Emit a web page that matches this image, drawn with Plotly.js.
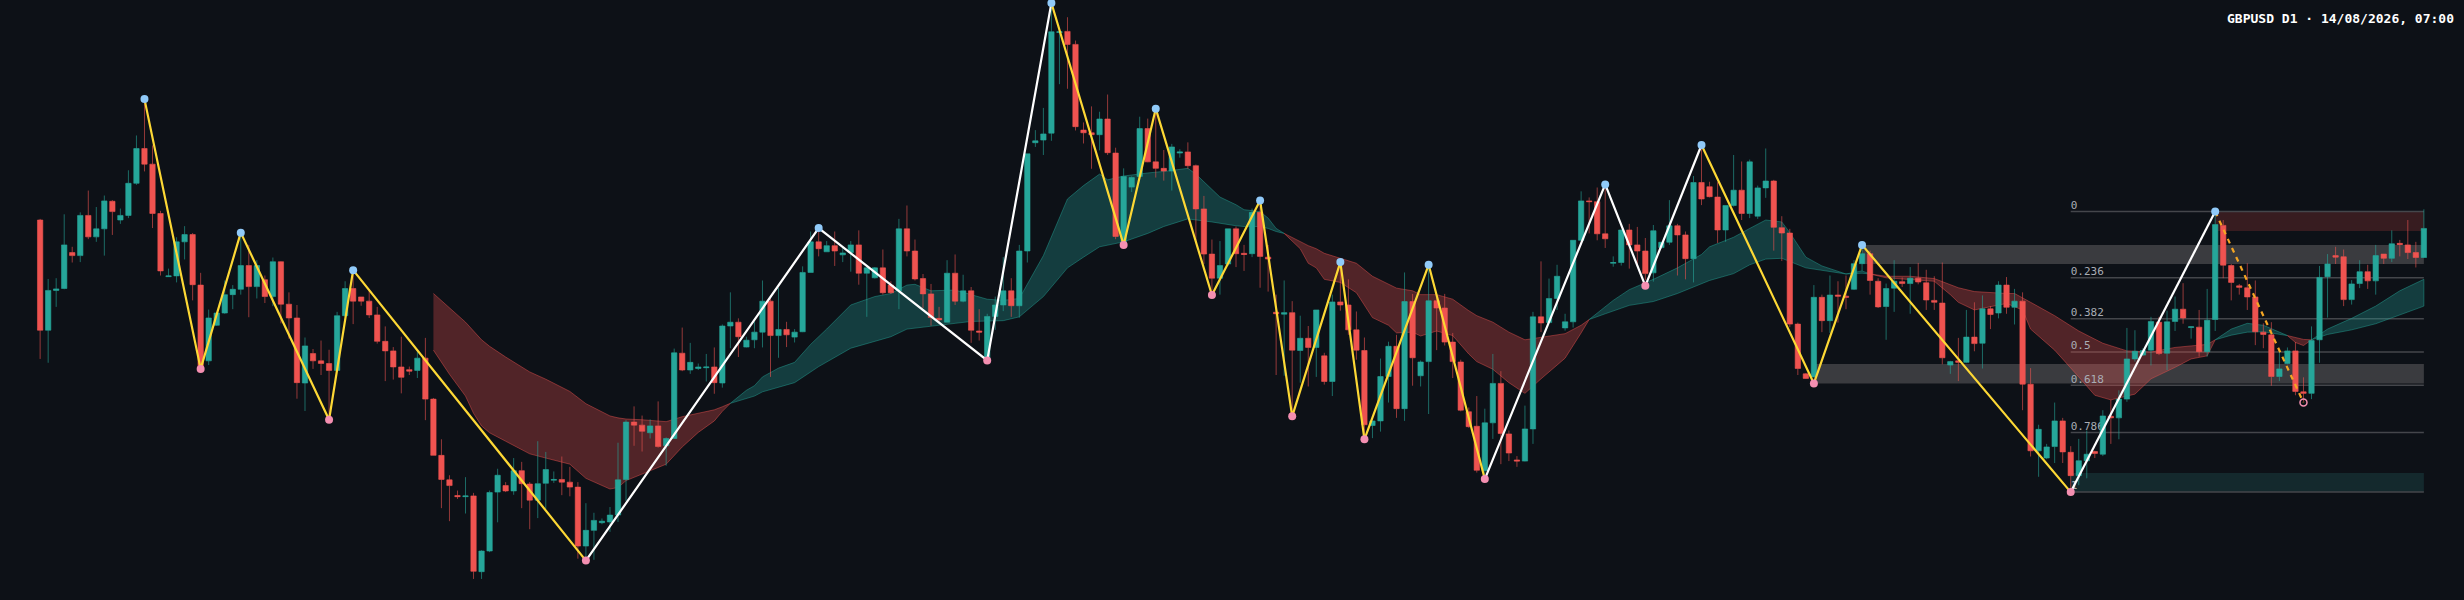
<!DOCTYPE html>
<html>
<head>
<meta charset="utf-8">
<script src="https://cdn.plot.ly/plotly-3.0.1.min.js"></script>
<style>
  html, body { margin: 0; padding: 0; background: #0d1117; }
  #chart { width: 2464px; height: 600px; }
</style>
</head>
<body>
<div id="chart"></div>
<script>
// all prices are pips above an arbitrary floor
const opens = [993,705,809,814,908,900,1005,949,970,1042,993,1005,1089,1180,1139,1010,845,847,936,955,823,625,718,750,798,812,874,819,837,793,884,773,737,567,644,625,618,600,743,814,792,781,745,676,651,609,602,600,632,525,378,314,273,270,272,74,128,282,299,285,338,303,261,305,313,315,308,295,141,182,202,204,222,315,465,457,437,455,403,422,645,601,605,607,609,567,716,726,661,680,700,781,691,707,687,701,856,936,910,926,902,908,928,854,842,868,823,808,970,912,840,800,736,726,854,781,808,703,628,741,771,808,769,912,1195,1202,1220,1483,1486,1452,1228,1221,1216,1257,1168,928,1079,1107,1232,1145,1128,1121,1168,1171,1135,1022,904,841,878,970,906,905,1013,896,752,747,751,652,684,660,638,571,779,771,706,652,456,468,584,663,500,780,586,623,782,763,674,622,492,454,338,463,566,434,366,363,447,740,725,788,711,727,940,1043,1041,957,880,882,967,928,912,855,921,935,978,954,892,1091,1080,1053,967,1031,1071,1010,1003,1077,1095,973,959,721,591,583,791,730,797,794,812,879,905,833,767,815,832,827,841,829,783,776,614,625,621,687,671,761,750,823,765,781,564,390,371,401,468,386,325,364,388,381,480,476,525,630,640,653,726,645,728,760,712,713,649,733,979,874,821,816,792,700,693,584,618,651,544,540,680,845,900,897,785,827,858,834,904,893,932,928,908,895];
const highs = [996,839,841,1008,923,1013,1070,1027,1057,1045,1023,1123,1214,1309,1188,1017,866,948,977,959,855,759,750,835,823,958,928,888,848,895,885,804,771,686,656,678,654,753,833,858,792,808,766,715,661,688,610,650,685,528,420,326,286,321,280,130,286,343,308,371,361,308,415,387,336,375,348,308,253,228,213,243,411,470,506,482,472,519,425,657,712,672,618,643,660,720,804,736,688,728,835,788,816,727,708,872,963,973,938,963,923,938,966,870,870,916,833,996,1031,942,852,826,766,888,903,850,818,760,748,793,896,841,928,1166,1228,1286,1560,1485,1523,1462,1248,1290,1276,1321,1182,1128,1107,1263,1258,1278,1176,1192,1178,1196,1138,1056,942,938,970,976,928,1023,1038,928,798,835,781,743,716,758,646,798,883,838,754,686,468,631,675,693,856,800,626,878,790,800,698,628,503,533,500,643,598,443,376,508,753,885,840,876,748,940,1068,1052,1078,1086,898,968,983,975,946,980,935,1045,983,963,1108,1188,1093,1092,1031,1163,1146,1151,1083,1180,1098,1003,970,725,593,823,798,848,833,848,888,928,913,841,827,888,843,870,881,863,846,882,625,685,758,778,796,768,833,844,813,804,606,458,408,516,476,402,421,443,390,496,523,548,711,705,658,740,740,756,793,828,715,758,813,1015,993,878,826,880,835,723,726,651,660,674,582,715,873,904,923,916,836,888,876,928,904,966,941,993,936,1021];
const lows = [630,620,766,812,882,883,943,936,900,954,983,998,1085,1120,972,848,845,830,890,783,604,614,716,748,760,798,739,788,776,768,723,683,526,494,604,588,478,598,740,721,769,737,670,572,576,540,588,580,470,378,240,206,264,226,55,55,125,203,282,275,240,185,214,238,306,274,271,108,103,105,198,178,204,258,403,388,422,398,351,421,598,591,601,571,539,555,658,635,660,658,660,583,633,661,673,700,856,898,910,873,883,858,824,740,840,798,800,760,898,835,763,717,723,726,771,778,672,678,628,706,755,740,738,882,1184,1163,1200,1348,1336,1227,1193,1127,1175,1163,943,928,1066,1106,1144,1104,1096,1070,1156,1127,933,878,798,798,873,870,860,896,816,806,588,586,483,568,558,583,563,533,756,693,628,420,423,440,516,476,468,560,558,486,653,665,580,493,450,333,318,421,355,363,348,362,408,700,723,758,704,712,938,958,940,920,871,874,866,878,836,832,918,928,848,838,830,1032,1052,933,936,1028,993,998,996,1051,913,886,713,588,578,583,700,698,725,760,810,860,798,763,680,753,818,748,825,758,758,616,591,572,619,650,605,708,736,748,720,496,375,322,368,358,358,283,300,318,371,376,408,420,518,623,638,613,640,601,703,722,683,636,636,703,841,783,798,758,666,658,560,572,616,535,518,525,620,738,878,768,772,815,813,798,878,883,898,891,869,894];
const closes = [705,809,813,928,900,1005,949,970,1043,1015,1005,1089,1180,1139,1010,860,847,936,955,824,608,737,750,798,812,874,819,874,793,884,773,737,568,664,625,618,600,743,814,781,781,745,676,651,609,582,598,632,525,378,315,299,270,272,75,128,281,326,285,338,304,261,304,341,315,308,295,141,182,208,206,222,314,465,457,441,455,401,422,646,601,621,609,609,568,716,726,688,679,700,781,691,707,693,700,856,936,918,926,912,907,928,854,868,868,803,803,970,912,839,800,738,732,854,781,808,705,700,741,771,808,769,912,1166,1200,1218,1485,1485,1452,1237,1221,1216,1257,1169,950,1107,1104,1232,1145,1128,1121,1184,1171,1135,1022,904,841,874,970,905,903,1013,898,891,748,751,653,684,660,758,571,779,771,706,653,458,468,584,663,500,780,633,622,782,763,674,623,496,453,339,463,566,435,384,363,447,740,724,788,846,727,940,1043,1041,957,944,882,967,928,912,853,965,935,978,954,892,1091,1048,1054,967,1031,1071,1010,1145,1077,1095,974,959,721,605,579,791,730,797,794,791,879,905,835,766,814,833,827,841,831,784,778,633,623,621,687,670,761,746,823,765,781,564,390,446,400,468,387,325,364,381,383,481,476,525,630,650,652,728,644,727,760,737,714,649,731,981,875,830,817,792,701,694,584,604,651,545,540,678,843,878,896,785,826,858,834,900,893,931,929,908,895,971];

// fibonacci retracement levels and their labels
const fibStart = 253;
const fibEnd = 297;
const fibLevels = [1015,842,735,648,561,438,282];
const fibLabels = ['0','0.236','0.382','0.5','0.618','0.786','1'];

// supply / demand zones
const zoneFrom = [227,221,271,253];
const zoneTop = [928,617,1015,332];
const zoneBottom = [878,566,964,282];
const zoneColors = ['#3a3b3f','#3a3b3f','#371c20','#14292d'];

// zigzag pivots
const pivotIdx = [13,20,25,36,39,68,97,118,126,135,139,146,152,156,162,165,173,180,195,200,207,221,227,253,271,282];
const pivotVal = [1309,604,960,471,862,103,972,626,1560,928,1284,797,1044,480,883,420,876,316,1086,821,1189,566,928,282,1015,516];
const legBreaks = [0,5,8,17,20,23,24];
const legColors = ['#fdd835','#ffffff','#fdd835','#ffffff','#fdd835','#ffffff'];

// cloud between the two moving averages, one band per colour change
const redAUpI = [49,53,55,56,58,61,63,66,68,71,72,73,75,78,80,83,84,85,86];
const redAUp = [801,726,680,663,635,596,577,545,513,481,476,473,471,466,479,494,497,505,514];
const redALoI = [49,51,53,54,55,56,58,61,63,66,68,71,72,73,75,77,78,80,82,84,85,86];
const redALo = [653,590,533,488,455,437,415,382,371,355,318,290,294,312,328,346,355,400,438,468,493,514];

const tealAUpI = [86,88,89,90,92,94,96,98,101,104,106,108,109,111,114,116,118,120,122,125,128,130,132,133,135,138,140,143,144,147,149,150,152,153,154,155];
const tealAUp = [514,548,560,583,606,621,668,708,771,793,801,823,825,808,810,798,786,783,788,900,1048,1083,1113,1098,1108,1116,1120,1128,1113,1053,1033,1020,1015,998,971,958];
const tealALoI = [86,89,90,94,97,101,106,108,110,114,116,120,122,125,128,130,132,135,138,140,143,146,149,150,152,153,154,155];
const tealALo = [514,533,544,568,610,658,688,708,713,723,728,730,740,793,868,896,923,936,958,976,996,988,978,976,976,971,963,958];

const redBI = [155,157,158,159,160,162,164,166,168,169,171,172,174,176,178,179,181,183,185,187,190,192,193];
const redBUp = [958,936,926,918,906,893,880,846,826,815,808,798,798,786,756,743,726,700,680,686,696,718,733];
const redBLo = [958,918,880,868,838,830,803,738,718,698,700,690,703,691,643,623,603,568,540,578,632,698,733];

const tealBUpI = [193,195,196,198,201,204,207,208,211,213,215,217,218,220,222,225];
const tealBUp = [733,768,783,811,838,868,903,923,948,971,993,988,960,896,873,852];
const tealBLoI = [193,195,198,201,204,205,208,211,213,215,217,220,222,225];
const tealBLo = [733,748,770,780,801,809,835,853,876,891,893,868,862,852];

const tealCI = [225,226,227,228];
const tealCUp = [852,856,860,852];
const tealCLo = [852,853,854,852];

const redCUpI = [228,230,233,236,239,241,245,246,248,251,254,257,260,263,266,269,270,271];
const redCUp = [852,846,846,840,816,806,801,801,778,743,703,671,651,648,660,665,668,680];
const redCLoI = [228,230,233,236,238,239,241,245,247,248,251,254,256,258,261,263,266,268,270,271];
const redCLo = [852,842,838,833,798,778,758,775,758,708,653,583,535,523,538,578,608,630,638,680];

const tealDI = [271,273,275,277,280];
const tealDUp = [680,708,723,718,691];
const tealDLo = [680,692,700,701,691];

const redDUpI = [280,282,283];
const redDUp = [691,681,680];
const redDLoI = [280,281,282,283];
const redDLo = [691,673,665,680];

const tealEI = [283,285,288,291,294,297];
const tealEUp = [680,708,736,768,808,838];
const tealELo = [680,694,706,722,746,768];

const RED = '#ef5350';
const TEAL = '#26a69a';

function band(upI, up, loI, lo, fill, edge) {
  return {
    type: 'scatter', mode: 'lines',
    x: upI.concat(loI.slice().reverse()),
    y: up.concat(lo.slice().reverse()),
    fill: 'toself', fillcolor: fill,
    line: { color: edge, width: 1 },
    hoverinfo: 'skip', showlegend: false
  };
}
const redBand = (a, b, c, d) => band(a, b, c, d, 'rgba(239,83,80,0.3)', 'rgba(239,83,80,0.45)');
const tealBand = (a, b, c, d) => band(a, b, c, d, 'rgba(38,166,154,0.3)', 'rgba(38,166,154,0.45)');

const data = [
  redBand(redAUpI, redAUp, redALoI, redALo),
  tealBand(tealAUpI, tealAUp, tealALoI, tealALo),
  redBand(redBI, redBUp, redBI, redBLo),
  tealBand(tealBUpI, tealBUp, tealBLoI, tealBLo),
  tealBand(tealCI, tealCUp, tealCI, tealCLo),
  redBand(redCUpI, redCUp, redCLoI, redCLo),
  tealBand(tealDI, tealDUp, tealDI, tealDLo),
  redBand(redDUpI, redDUp, redDLoI, redDLo),
  tealBand(tealEI, tealEUp, tealEI, tealELo),
  {
    type: 'scatter', mode: 'text',
    x: fibLabels.map(() => fibStart), y: fibLevels, text: fibLabels,
    textposition: 'top right',
    textfont: { family: 'DejaVu Sans Mono', size: 11, color: '#a9adb5' },
    hoverinfo: 'skip', showlegend: false
  },
  {
    // second axes so the candles sit on top of the cloud
    type: 'candlestick', xaxis: 'x2', yaxis: 'y2',
    x: opens.map((_, i) => i),
    open: opens, high: highs, low: lows, close: closes,
    increasing: { line: { color: 'rgba(38,166,154,0.6)', width: 1 }, fillcolor: TEAL },
    decreasing: { line: { color: 'rgba(239,83,80,0.6)', width: 1 }, fillcolor: RED },
    hoverinfo: 'skip', showlegend: false
  }
];

// zigzag legs
legColors.forEach((c, k) => {
  data.push({
    type: 'scatter', mode: 'lines', xaxis: 'x2', yaxis: 'y2',
    x: pivotIdx.slice(legBreaks[k], legBreaks[k + 1] + 1),
    y: pivotVal.slice(legBreaks[k], legBreaks[k + 1] + 1),
    line: { color: c, width: 2.2 }, hoverinfo: 'skip', showlegend: false
  });
});
// unconfirmed last leg
data.push({
  type: 'scatter', mode: 'lines', xaxis: 'x2', yaxis: 'y2',
  x: pivotIdx.slice(-2), y: pivotVal.slice(-2),
  line: { color: '#f5a623', width: 2.2, dash: '5px,5px' }, hoverinfo: 'skip', showlegend: false
});
// pivot dots
const conf = pivotIdx.slice(0, -1);
data.push({
  type: 'scatter', mode: 'markers', xaxis: 'x2', yaxis: 'y2',
  x: conf, y: pivotVal.slice(0, -1),
  marker: {
    size: 8,
    color: conf.map((_, i) => pivotVal[i] > pivotVal[i + 1] ? '#90caf9' : '#f48fb1')
  },
  hoverinfo: 'skip', showlegend: false
});
data.push({
  type: 'scatter', mode: 'markers', xaxis: 'x2', yaxis: 'y2',
  x: pivotIdx.slice(-1), y: pivotVal.slice(-1),
  marker: { size: 7, color: 'rgba(0,0,0,0)', line: { color: '#f48fb1', width: 1.5 } },
  hoverinfo: 'skip', showlegend: false
});

const shapes = [];
zoneFrom.forEach((f, k) => {
  shapes.push({
    type: 'rect', layer: 'below', xref: 'x', yref: 'y',
    x0: f, x1: fibEnd, y0: zoneBottom[k], y1: zoneTop[k],
    fillcolor: zoneColors[k], line: { width: 0 }
  });
});
fibLevels.forEach(v => {
  shapes.push({
    type: 'line', layer: 'below', xref: 'x', yref: 'y',
    x0: fibStart, x1: fibEnd, y0: v, y1: v,
    line: { color: '#44464b', width: 1.5 }
  });
});

const hiddenX = { range: [-5, 302], visible: false, fixedrange: true, rangeslider: { visible: false } };
const hiddenY = { range: [0, 1568], visible: false, fixedrange: true };

const layout = {
  width: 2464, height: 600,
  margin: { l: 0, r: 0, t: 0, b: 0 },
  paper_bgcolor: '#0d1117', plot_bgcolor: '#0d1117',
  showlegend: false,
  boxgap: 0.05,
  title: {
    text: 'GBPUSD D1 · 14/08/2026, 07:00',
    x: 2454 / 2464, xanchor: 'right', y: 1 - 18 / 600, yanchor: 'middle',
    font: { family: 'DejaVu Sans Mono', size: 13, color: '#ffffff', weight: 'bold' }
  },
  xaxis: hiddenX,
  yaxis: hiddenY,
  xaxis2: Object.assign({}, hiddenX, { overlaying: 'x' }),
  yaxis2: Object.assign({}, hiddenY, { overlaying: 'y' }),
  shapes: shapes
};

Plotly.newPlot('chart', data, layout, { displayModeBar: false, staticPlot: true });
</script>
</body>
</html>
